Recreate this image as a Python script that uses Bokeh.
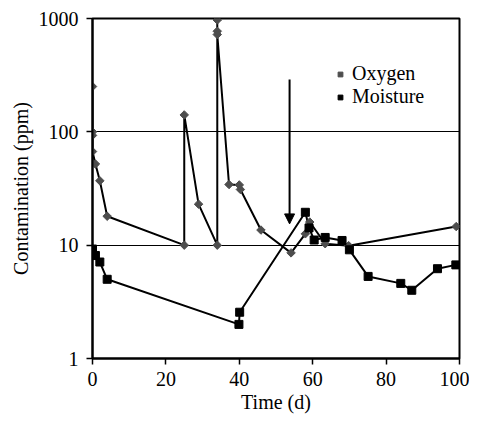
import numpy as np
from bokeh.plotting import figure
from bokeh.models import (ColumnDataSource, FixedTicker, Legend, LegendItem,
                          Arrow, NormalHead)
from bokeh.embed import file_html
from bokeh.resources import INLINE

# ---- data ----
oxygen_time = [0, 0, 0, 0, 0.8, 2.0, 4.0, 25, 25, 28.9, 34, 34, 34, 34,
               37.2, 40, 40.3, 45.9, 54.1, 58, 59.2, 63.4, 69.8, 99.1]
oxygen_ppm = [251, 100, 93, 67, 52, 37, 18, 10, 141, 23, 10, 970, 772, 722,
              34.3, 34, 31, 13.6, 8.55, 12.6, 16, 10.3, 9.9, 14.6]

moisture_time = [0, 0.8, 2, 4, 39.9, 40.1, 58, 59, 60.4, 63.4, 68, 70,
                 75.1, 84, 87, 94, 99]
moisture_ppm = [9.25, 8.1, 7.1, 5.0, 2.0, 2.56, 19.5, 14.2, 11.1, 11.7, 11.0,
                9.1, 5.3, 4.6, 4.0, 6.2, 6.7]

x_ticks = [0, 20, 40, 60, 80, 100]
y_ticks = [1, 10, 100, 1000]
y_tick_labels = ["1", "10", "100", "1000"]

arrow_x = 53.7
arrow_y_start = 290
arrow_y_end = 15.4

FONT = "Liberation Serif"
FS = "20px"

p = figure(output_backend="svg", toolbar_location=None,
           frame_width=367, frame_height=340,
           x_range=(0, 100), y_range=(1, 1000), y_axis_type="log",
           min_border_left=92, min_border_top=18, min_border_right=10,
           min_border_bottom=10)

p.background_fill_color = "white"
p.border_fill_color = "white"
p.outline_line_color = "black"
p.outline_line_width = 2

for ax in (p.xaxis[0], p.yaxis[0]):
    ax.axis_line_color = "black"
    ax.axis_line_width = 2
    ax.major_tick_line_color = "black"
    ax.major_tick_line_width = 1.5
    ax.major_tick_out = 6
    ax.major_tick_in = 0
    ax.minor_tick_line_color = None
    ax.major_label_text_font = FONT
    ax.major_label_text_font_size = FS
    ax.major_label_text_color = "black"
    ax.axis_label_text_font = FONT
    ax.axis_label_text_font_size = FS
    ax.axis_label_text_font_style = "normal"
    ax.axis_label_text_color = "black"

p.xaxis.ticker = FixedTicker(ticks=x_ticks)
p.xaxis.axis_label = "Time (d)"
p.xaxis.major_label_standoff = 7
p.xaxis.axis_label_standoff = 2

p.yaxis.ticker = FixedTicker(ticks=y_ticks)
p.yaxis.major_label_overrides = {t: l for t, l in zip(y_ticks, y_tick_labels)}
p.yaxis.axis_label = "Contamination (ppm)"
p.yaxis.major_label_standoff = 8
p.yaxis.axis_label_standoff = 4

p.xgrid.grid_line_color = None
p.ygrid.ticker = FixedTicker(ticks=[10, 100])
p.ygrid.grid_line_color = "black"
p.ygrid.grid_line_width = 1

ox = ColumnDataSource(dict(t=oxygen_time, v=oxygen_ppm))
mo = ColumnDataSource(dict(t=moisture_time, v=moisture_ppm))

p.line("t", "v", source=ox, line_color="black", line_width=2)
p.line("t", "v", source=mo, line_color="black", line_width=2)
r_ox = p.scatter("t", "v", source=ox, marker="square", angle=np.pi / 4,
                 size=6, fill_color="#4d4d4d", line_color="#4d4d4d")
r_mo = p.scatter("t", "v", source=mo, marker="square", size=8,
                 fill_color="black", line_color="black")

p.add_layout(Arrow(end=NormalHead(size=10, fill_color="black",
                                  line_color="black"),
                   x_start=arrow_x, y_start=arrow_y_start,
                   x_end=arrow_x, y_end=arrow_y_end,
                   line_color="black", line_width=2))

legend = Legend(items=[LegendItem(label="Oxygen", renderers=[r_ox]),
                       LegendItem(label="Moisture", renderers=[r_mo])],
                location=(242, 250), padding=0, margin=0, spacing=0,
                glyph_width=12, glyph_height=12, label_standoff=6,
                label_height=16,
                border_line_alpha=0, background_fill_alpha=0,
                label_text_font=FONT, label_text_font_size=FS,
                label_text_color="black")
p.add_layout(legend)

open("out.html", "w").write(file_html(p, INLINE))
